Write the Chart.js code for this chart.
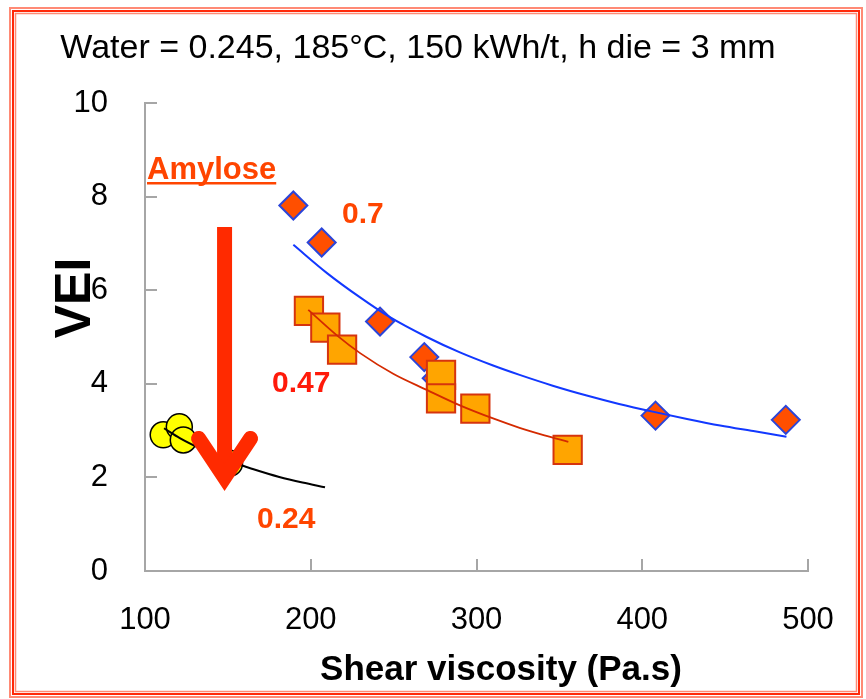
<!DOCTYPE html>
<html>
<head>
<meta charset="utf-8">
<script src="https://cdn.jsdelivr.net/npm/chart.js@4.4.1/dist/chart.umd.min.js"></script>
<style>
body { margin: 0; background: #fff; }
canvas { display: block; }
</style>
</head>
<body>
<canvas id="vei-chart" width="866" height="699"></canvas>
<script>
// Amylose 0.7 (diamonds)
const amy70_x = [189.5, 206.6, 241.8, 268.5, 276, 408, 486.6]
const amy70_y = [7.81, 7.02, 5.33, 4.57, 4.12, 3.32, 3.23]
// Amylose 0.47 (squares)
const amy47_x = [198.9, 208.8, 218.9, 278.6, 278.6, 299.3, 355]
const amy47_y = [5.56, 5.2, 4.73, 4.19, 3.69, 3.47, 2.59]
// Amylose 0.24 (circles)
const amy24_x = [111, 120.7, 123.1, 151]
const amy24_y = [2.91, 3.08, 2.8, 2.3]

// trend curves
const fit70_x = [189.5, 210, 230, 247, 270, 290, 310, 326, 346, 366.5, 386, 407, 427, 447, 467, 487]
const fit70_y = [6.97, 6.36, 5.84, 5.44, 5.0, 4.67, 4.39, 4.19, 3.96, 3.75, 3.57, 3.40, 3.25, 3.11, 2.99, 2.87]
const fit47_x = [198.5, 215.6, 230, 250, 270, 290, 310, 326, 341, 355.4]
const fit47_y = [5.58, 5.04, 4.65, 4.21, 3.87, 3.54, 3.26, 3.06, 2.90, 2.76]
const fit24_x = [111.5, 121, 135, 150, 165, 181, 195, 208.6]
const fit24_y = [3.05, 2.84, 2.59, 2.36, 2.18, 2.01, 1.89, 1.79]

const x_ticks = [100, 200, 300, 400, 500]
const y_ticks = [0, 2, 4, 6, 8, 10]

const FONT = "'Liberation Sans', Arial, sans-serif"
const AXIS_GREY = '#A6A6A6'

function toPoints(xs, ys) {
    return xs.map(function(x, i) { return {x: x, y: ys[i]} })
}

function trendLine(xs, ys, colour, width) {
    return {
        data: toPoints(xs, ys),
        showLine: true,
        borderColor: colour,
        borderWidth: width,
        pointRadius: 0,
        cubicInterpolationMode: 'monotone'
    }
}

// frame, titles, labels and the amylose arrow
const decorations = {
    id: 'decorations',
    afterDatasetsDraw(chart) {
        const ctx = chart.ctx
        const xs = chart.scales.x
        const ys = chart.scales.y
        ctx.save()

        // big arrow (shaft + chevron head)
        let ax = xs.getPixelForValue(148)
        let top = ys.getPixelForValue(7.35)
        let tip = ys.getPixelForValue(2.0)
        ctx.strokeStyle = '#FF2A00'
        ctx.lineWidth = 15
        ctx.lineCap = 'butt'
        ctx.beginPath()
        ctx.moveTo(ax, top)
        ctx.lineTo(ax, tip - 4)
        ctx.stroke()
        ctx.lineCap = 'round'
        ctx.lineJoin = 'miter'
        ctx.beginPath()
        ctx.moveTo(ax - 26, tip - 39)
        ctx.lineTo(ax, tip)
        ctx.lineTo(ax + 26, tip - 39)
        ctx.stroke()

        // annotation labels
        ctx.textAlign = 'left'
        ctx.textBaseline = 'alphabetic'
        ctx.font = 'bold 31px ' + FONT
        ctx.fillStyle = '#FF4500'
        ctx.fillText('Amylose', 147, 179)
        let w = ctx.measureText('Amylose').width
        ctx.fillRect(147, 182, w, 2.5)

        ctx.font = 'bold 30px ' + FONT
        ctx.fillStyle = '#FF4500'
        ctx.fillText('0.7', 342, 223)
        ctx.fillText('0.24', 257, 528)
        ctx.fillStyle = '#FF1A0A'
        ctx.fillText('0.47', 272, 392)
        ctx.restore()
    },
    afterDraw(chart) {
        const ctx = chart.ctx
        ctx.save()
        // titles
        ctx.fillStyle = '#000'
        ctx.textBaseline = 'alphabetic'
        ctx.textAlign = 'center'
        ctx.font = '34px ' + FONT
        ctx.fillText('Water = 0.245, 185°C, 150 kWh/t, h die = 3 mm', 418, 58)
        ctx.font = 'bold 35px ' + FONT
        ctx.fillText('Shear viscosity (Pa.s)', 501, 680)
        ctx.translate(90, 298)
        ctx.rotate(-Math.PI / 2)
        ctx.font = 'bold 50px ' + FONT
        ctx.fillText('VEI', 0, 0)
        ctx.setTransform(1, 0, 0, 1, 0, 0)

        // red triple frame
        ctx.lineWidth = 2
        ctx.strokeStyle = '#FF8A75'
        ctx.strokeRect(10, 8, 852, 689)
        ctx.strokeStyle = '#FF2A0A'
        ctx.strokeRect(13, 11, 846, 683)
        ctx.lineWidth = 1.5
        ctx.strokeStyle = '#FF8A75'
        ctx.strokeRect(15.5, 13.5, 841, 678)
        ctx.restore()
    }
}

new Chart("vei-chart", {
    type: 'scatter',
    data: {
        datasets: [
            trendLine(fit70_x, fit70_y, '#1238FF', 2),
            trendLine(fit47_x, fit47_y, '#D42A00', 1.8),
            trendLine(fit24_x, fit24_y, '#000000', 2),
            {
                data: toPoints(amy24_x, amy24_y),
                pointStyle: 'circle',
                pointRadius: 13,
                backgroundColor: '#FFFF00',
                borderColor: '#000000',
                borderWidth: 1.5
            },
            {
                data: toPoints(amy47_x, amy47_y),
                pointStyle: 'rect',
                pointRadius: 20,
                backgroundColor: '#FFA500',
                borderColor: '#D6340E',
                borderWidth: 2
            },
            {
                data: toPoints(amy70_x, amy70_y),
                pointStyle: 'rectRot',
                pointRadius: 14,
                backgroundColor: '#FF4F00',
                borderColor: '#2B45D9',
                borderWidth: 2
            }
        ]
    },
    options: {
        responsive: false,
        animation: false,
        layout: { padding: { left: 0, right: 58, top: 103, bottom: 0 } },
        plugins: {
            legend: { display: false },
            tooltip: { enabled: false }
        },
        scales: {
            x: {
                type: 'linear',
                min: 100,
                max: 500,
                afterFit: function(scale) {
                    scale.height = 128
                    scale.paddingLeft = 0
                    scale.paddingRight = 0
                },
                afterBuildTicks: function(scale) { scale.ticks = x_ticks.map(v => ({value: v})) },
                border: { color: AXIS_GREY, width: 2 },
                grid: { drawOnChartArea: false, drawTicks: true, tickLength: -12, color: AXIS_GREY, lineWidth: 2 },
                ticks: { color: '#000', font: { family: FONT, size: 31 }, padding: 43, maxRotation: 0 }
            },
            y: {
                type: 'linear',
                min: 0,
                max: 10,
                afterFit: function(scale) {
                    scale.width = 145
                    scale.paddingTop = 0
                    scale.paddingBottom = 0
                },
                afterBuildTicks: function(scale) { scale.ticks = y_ticks.map(v => ({value: v})) },
                border: { color: AXIS_GREY, width: 2 },
                grid: { drawOnChartArea: false, drawTicks: true, tickLength: -12, color: AXIS_GREY, lineWidth: 2 },
                ticks: { color: '#000', font: { family: FONT, size: 31 }, padding: 49 }
            }
        }
    },
    plugins: [decorations]
})
</script>
</body>
</html>
